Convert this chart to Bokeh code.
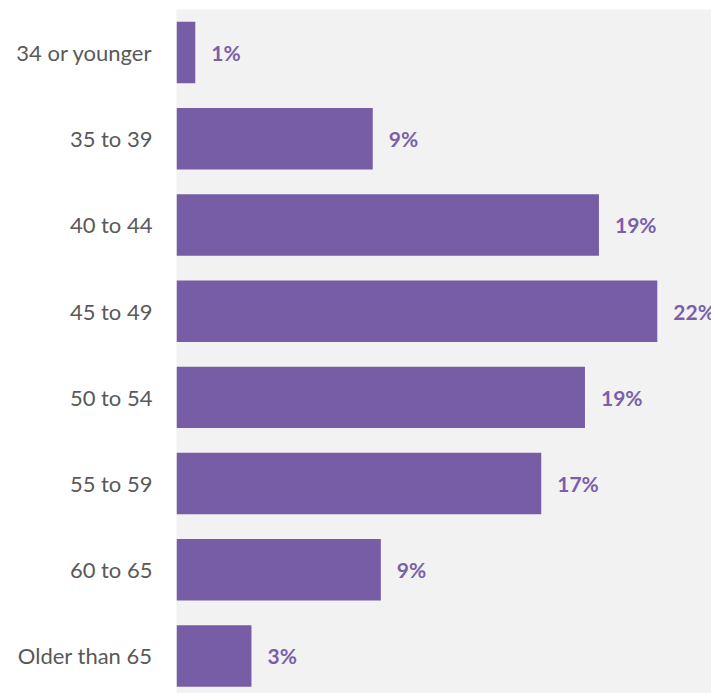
from bokeh.plotting import figure
from bokeh.models import Range1d, FixedTicker, ColumnDataSource
from bokeh.core.properties import value
from bokeh.embed import file_html
from bokeh.resources import INLINE

categories = ["34 or younger", "35 to 39", "40 to 44", "45 to 49",
              "50 to 54", "55 to 59", "60 to 65", "Older than 65"]
shares = [0.86, 8.98, 19.33, 22.0, 18.69, 16.69, 9.35, 3.43]
share_labels = ["1%", "9%", "19%", "22%", "19%", "17%", "9%", "3%"]

BAR = "#765DA6"
positions = list(range(len(categories)))

src = ColumnDataSource(dict(y=positions, v=shares, lab=share_labels))

p = figure(width=711, height=693, output_backend="svg", toolbar_location=None,
           x_range=Range1d(0, 24.48), y_range=Range1d(7.436, -0.5),
           min_border_left=176, min_border_right=0, min_border_top=9,
           min_border_bottom=0)
p.background_fill_color = "#F2F2F2"
p.border_fill_color = "white"
p.outline_line_color = None
p.xgrid.visible = False
p.ygrid.visible = False
p.xaxis.visible = False

p.hbar(y="y", right="v", left=0, height=0.713, source=src,
       fill_color=BAR, line_color=None)
p.text(x="v", y="y", text="lab", source=src, x_offset=16,
       text_align="left", text_baseline="middle",
       text_font=value("Lato"), text_font_size="21px",
       text_font_style="bold", text_color="#7A5FAA")

ax = p.yaxis[0]
ax.ticker = FixedTicker(ticks=positions)
ax.major_label_overrides = {i: c for i, c in enumerate(categories)}
ax.axis_line_color = None
ax.major_tick_line_color = None
ax.minor_tick_line_color = None
ax.major_label_standoff = 18
ax.major_label_text_font = "Lato"
ax.major_label_text_font_size = "22px"
ax.major_label_text_color = "#595959"

open("out.html", "w").write(file_html(p, INLINE))
